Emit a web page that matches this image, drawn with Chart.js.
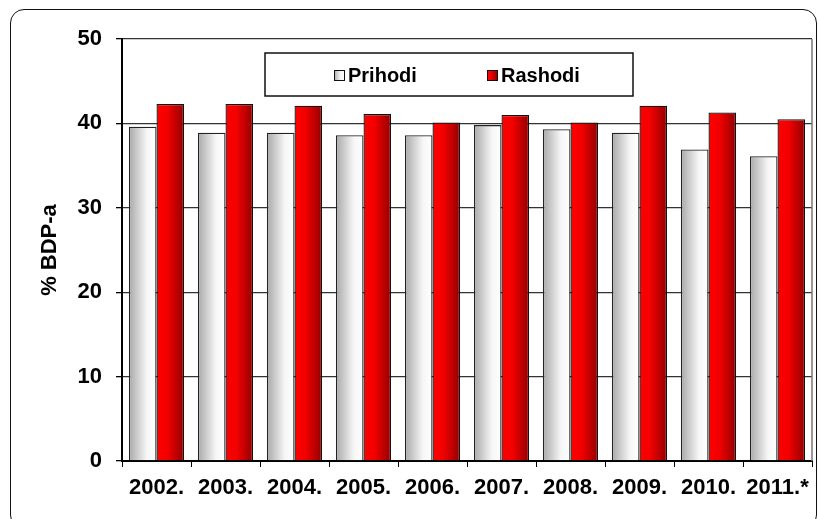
<!DOCTYPE html>
<html>
<head>
<meta charset="utf-8">
<script src="https://cdn.jsdelivr.net/npm/chart.js@4.4.1/dist/chart.umd.min.js"></script>
<style>
  html, body { margin: 0; padding: 0; background: #fff; }
  #wrap { position: relative; width: 818px; height: 519px; overflow: hidden; }
  #frame {
    position: absolute; left: 10px; top: 9px; width: 807px; height: 520px;
    border: 1.3px solid #111; border-radius: 14px; box-sizing: border-box;
  }
  canvas { position: absolute; left: 0; top: 0; }
</style>
</head>
<body>
<div id="wrap">
  <div id="frame"></div>
  <canvas id="chart" width="818" height="519"></canvas>
</div>
<script>
// data
const years = ['2002.', '2003.', '2004.', '2005.', '2006.', '2007.', '2008.', '2009.', '2010.', '2011.*'];
const prihodi = [39.6, 38.9, 38.9, 38.6, 38.6, 39.8, 39.3, 38.9, 36.9, 36.1];
const rashodi = [42.3, 42.3, 42.1, 41.1, 40.1, 41.0, 40.1, 42.1, 41.3, 40.5];
const yTicks = [0, 10, 20, 30, 40, 50];

const FONT = 'Arial, "Liberation Sans", sans-serif';

// horizontal gradients, one per bar
const greyStops = [[0, '#a8a8a8'], [0.65, '#f6f6f6'], [1, '#ffffff']];
const redStops = [[0, '#ff0000'], [0.4, '#f20000'], [1, '#920000']];

function barFill(stops, fallback) {
    return function(c) {
        const xs = c.chart.scales.x;
        if (!xs || xs.width === undefined) return fallback;
        const half = (xs.width / years.length) * 0.8 / 2;
        const center = xs.getPixelForValue(c.dataIndex);
        const left = center - half + c.datasetIndex * half;
        const g = c.chart.ctx.createLinearGradient(left, 0, left + half, 0);
        stops.forEach(s => g.addColorStop(s[0], s[1]));
        return g;
    };
}

// legend box inside the plot + right frame line
const boxLegend = {
    id: 'boxLegend',
    afterDraw(chart) {
        const ctx = chart.ctx;
        const a = chart.chartArea;
        ctx.save();
        // right edge of plot area
        ctx.strokeStyle = '#777';
        ctx.lineWidth = 1.5;
        ctx.beginPath();
        ctx.moveTo(a.right, a.top);
        ctx.lineTo(a.right, a.bottom);
        ctx.stroke();

        // legend box
        ctx.fillStyle = '#fff';
        ctx.fillRect(265, 53, 368, 43);
        ctx.strokeStyle = '#111';
        ctx.lineWidth = 1.5;
        ctx.strokeRect(265, 53, 368, 43);

        const items = [
            { x: 334, label: chart.data.datasets[0].label, stops: greyStops },
            { x: 487, label: chart.data.datasets[1].label, stops: redStops }
        ];
        ctx.font = 'bold 20px ' + FONT;
        ctx.textBaseline = 'middle';
        items.forEach(it => {
            const g = ctx.createLinearGradient(it.x, 0, it.x + 10, 0);
            it.stops.forEach(s => g.addColorStop(s[0], s[1]));
            ctx.fillStyle = g;
            ctx.fillRect(it.x, 70, 10, 10);
            ctx.strokeStyle = '#111';
            ctx.lineWidth = 1;
            ctx.strokeRect(it.x + 0.5, 70.5, 10, 10);
            ctx.fillStyle = '#000';
            ctx.fillText(it.label, it.x + 14, 76);
        });
        ctx.restore();
    }
};

new Chart(document.getElementById('chart'), {
    type: 'bar',
    data: {
        labels: years,
        datasets: [
            {
                label: 'Prihodi',
                data: prihodi,
                backgroundColor: barFill(greyStops, '#ddd'),
                borderColor: '#222',
                borderWidth: 1.3,
                borderSkipped: 'bottom'
            },
            {
                label: 'Rashodi',
                data: rashodi,
                backgroundColor: barFill(redStops, '#e00'),
                borderColor: '#111',
                borderWidth: 1.3,
                borderSkipped: 'bottom'
            }
        ]
    },
    options: {
        responsive: false,
        animation: false,
        layout: { padding: { left: 10, top: 39, right: 6, bottom: 0 } },
        datasets: { bar: { categoryPercentage: 0.8, barPercentage: 1.0 } },
        plugins: {
            legend: { display: false },
            tooltip: { enabled: false }
        },
        scales: {
            x: {
                afterFit: s => { s.height = 58; },
                grid: {
                    drawOnChartArea: false,
                    drawTicks: true,
                    tickLength: 6,
                    tickColor: '#000',
                    offset: true
                },
                border: { display: true, color: '#000', width: 2 },
                ticks: {
                    color: '#000',
                    font: { family: FONT, size: 22, weight: 'bold' },
                    padding: 8,
                    maxRotation: 0,
                    autoSkip: false
                }
            },
            y: {
                min: 0,
                max: 50,
                afterFit: s => { s.width = 112; },
                afterBuildTicks: s => { s.ticks = yTicks.map(v => ({ value: v })); },
                grid: {
                    color: '#333',
                    lineWidth: 1.3,
                    drawTicks: true,
                    tickLength: 6,
                    tickColor: '#000'
                },
                border: { display: true, color: '#000', width: 2 },
                ticks: {
                    color: '#000',
                    font: { family: FONT, size: 22, weight: 'bold' },
                    padding: 14
                },
                title: {
                    display: true,
                    text: '% BDP-a',
                    color: '#000',
                    font: { family: FONT, size: 22, weight: 'bold' },
                    padding: { top: 27, bottom: 0 }
                }
            }
        }
    },
    plugins: [boxLegend]
});
</script>
</body>
</html>
